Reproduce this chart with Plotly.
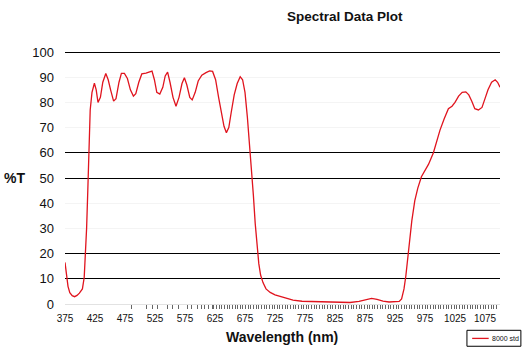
import plotly.graph_objects as go
import numpy as np

# ---- data ----
wavelength = [375, 377, 380, 383, 387, 391, 395, 399, 404, 407, 409, 411, 413, 415, 417, 420,
              424, 427, 430, 434, 438, 443, 447, 451, 456, 460, 465, 469, 474, 479, 484, 489,
              493, 498, 503, 510, 516, 520, 524, 528, 533, 538, 542, 546, 550, 555, 560, 565,
              570, 574, 578, 583, 587, 592, 597, 603, 610, 616, 621, 626, 631, 636, 640, 644,
              648, 652, 657, 662, 667, 671, 675, 679, 683, 686, 689, 692, 695, 698, 701, 705,
              710, 717, 725, 735, 745, 755, 770, 790, 810, 830, 850, 865, 875, 886, 895, 905,
              915, 925, 932, 936, 940, 943, 946, 949, 953, 958, 963, 969, 975, 981, 989, 995,
              1000, 1007, 1014, 1020, 1025, 1031, 1037, 1043, 1048, 1053, 1058, 1064, 1070,
              1075, 1080, 1086, 1092, 1096, 1100]
transmission = [16.5, 12, 7, 4.5, 3.3, 2.9, 3.4, 4.3, 6, 10.5, 20, 30, 45, 65, 77, 84,
                87.6, 85, 80, 82, 88, 91.5, 89, 85, 80.5, 81.5, 88, 91.5, 91.5, 89.5, 85, 82.5,
                83.5, 88, 91.3, 91.6, 92, 92.4, 89, 84, 83.3, 86, 90.5, 92, 88, 82, 78.5, 82,
                87.5, 89.8, 87, 82, 81, 84, 88.5, 90.8, 91.8, 92.5, 92.3, 89, 82, 75, 70.5, 68,
                70, 76, 83, 87.5, 90.2, 89, 84, 74, 62, 54, 43, 32, 23, 16, 11.5, 8.5,
                6, 4.6, 3.6, 2.8, 2, 1.5, 1.1, 0.9, 0.7, 0.6, 0.6, 1, 1.6, 2.2, 1.8, 1.1,
                0.8, 0.8, 1, 2, 6, 11, 18, 25, 33, 41, 46, 50.5, 53, 55.5, 60, 65,
                69, 73.5, 77.5, 78.5, 80, 82.5, 84, 84.2, 83, 80.5, 77.5, 77, 78,
                81.5, 85, 88, 89, 88, 86]
series_name = "8000 std"

x_tick_labels = [375, 425, 475, 525, 575, 625, 675, 725, 775, 825, 875, 925, 975, 1025, 1075]
y_ticks = [0, 10, 20, 30, 40, 50, 60, 70, 80, 90, 100]
strong_grid = [10, 20, 50, 60, 100]
minor_ticks = [486, 510, 520, 529, 545, 554, 564, 579, 586, 595, 603, 607, 614, 620, 623, 628] + \
    list(np.arange(632, 1097, 4.4))

FONT = "Arial, Liberation Sans, sans-serif"
RED = "#e0141e"

fig = go.Figure()
# dummy trace to activate yaxis2 grid
fig.add_trace(go.Scatter(x=[None], y=[None], yaxis="y2", showlegend=False, hoverinfo="skip"))
fig.add_trace(go.Scatter(x=wavelength, y=transmission, mode="lines",
                         line=dict(color=RED, width=1.3), name=series_name,
                         showlegend=False, hoverinfo="skip"))

fig.update_layout(
    width=526, height=351,
    margin=dict(l=65, r=26, t=51, b=47),
    paper_bgcolor="white", plot_bgcolor="white",
    font=dict(family=FONT, color="#111"),
    showlegend=False,
    xaxis=dict(range=[375, 1100], tickmode="array", tickvals=x_tick_labels,
               ticktext=[str(v) for v in x_tick_labels],
               tickfont=dict(size=10, family=FONT), ticks="", showgrid=False,
               zeroline=False, showline=True, linecolor="#e2e2e2", linewidth=1,
               ticklabelstandoff=5,
               minor=dict(tickmode="array", tickvals=minor_ticks, ticks="outside",
                          ticklen=4, tickcolor="#666", tickwidth=1, showgrid=False)),
    yaxis=dict(range=[0, 100.4], tickmode="array", tickvals=y_ticks,
               tickfont=dict(size=13, family=FONT), ticks="", showgrid=True,
               gridcolor="#f4f4f4", gridwidth=1, zeroline=False, showline=False,
               ticklabelstandoff=10),
    yaxis2=dict(range=[0, 100.4], overlaying="y", tickmode="array", tickvals=strong_grid,
                showticklabels=False, ticks="", showgrid=True, gridcolor="black",
                gridwidth=1, zeroline=False, showline=False, side="left"),
)

annotations = [
    dict(text="<b>Spectral Data Plot</b>", x=0.644, y=1.135, xref="paper", yref="paper",
         showarrow=False, font=dict(size=13.5, family=FONT, color="#111"),
         xanchor="center", yanchor="middle"),
    dict(text="<b>%T</b>", x=-0.115, y=0.5, xref="paper", yref="paper",
         showarrow=False, font=dict(size=14, family=FONT, color="#111"),
         xanchor="center", yanchor="middle"),
    dict(text="<b>Wavelength (nm)</b>", x=0.499, y=-0.132, xref="paper", yref="paper",
         showarrow=False, font=dict(size=14, family=FONT, color="#111"),
         xanchor="center", yanchor="middle"),
    dict(text=series_name, x=0.976, y=-0.136, xref="paper", yref="paper",
         showarrow=False, font=dict(size=7, family=FONT, color="#111"),
         xanchor="left", yanchor="middle"),
]
fig.update_layout(annotations=annotations)

fig.update_layout(shapes=[
    dict(type="rect", xref="paper", yref="paper", x0=0.924, x1=1.048, y0=-0.167, y1=-0.104,
         line=dict(color="black", width=1), fillcolor="white", layer="below"),
    dict(type="line", xref="paper", yref="paper", x0=0.936, x1=0.974, y0=-0.136, y1=-0.136,
         line=dict(color=RED, width=1.3)),
])

fig.write_html("out.html")
